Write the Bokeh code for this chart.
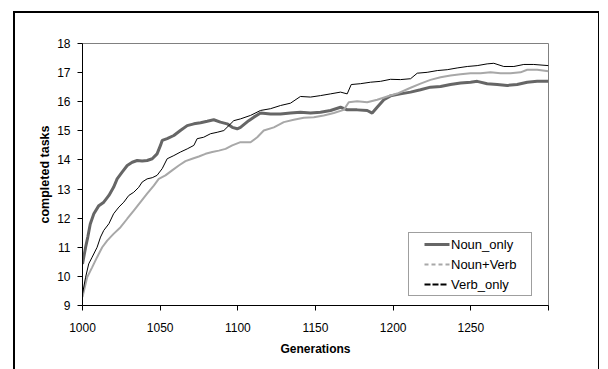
from bokeh.plotting import figure
from bokeh.layouts import column
from bokeh.models import Range1d, FixedTicker, Legend, LegendItem
from bokeh.embed import file_html
from bokeh.resources import INLINE

# ---- data ----
noun_only_gen = [1000, 1002, 1003.4, 1005, 1007.3, 1010.5, 1013.7, 1017, 1020, 1022.3,
                 1025.5, 1028.8, 1032, 1035.2, 1038.4, 1041.6, 1044.9, 1048, 1050.2, 1051.3,
                 1054.5, 1058.8, 1063, 1067.4, 1071.7, 1076, 1080.3, 1084.5, 1088.8, 1093.1,
                 1096.4, 1099.6, 1101.7, 1107, 1110.3, 1114.6, 1121, 1127.5, 1133.9, 1140.3,
                 1146.8, 1153.2, 1159.7, 1166.1, 1170.4, 1176.8, 1183.3, 1186.5, 1189.7, 1194,
                 1198.3, 1204.7, 1211.2, 1217.6, 1224, 1230.5, 1236.9, 1243.4, 1249.8, 1254.1,
                 1260.5, 1267, 1273.4, 1279.8, 1286.3, 1292.7, 1300]
noun_only = [10.43, 11.0, 11.35, 11.8, 12.15, 12.43, 12.55, 12.78, 13.06, 13.35,
             13.58, 13.81, 13.92, 13.98, 13.96, 13.98, 14.04, 14.21, 14.5, 14.67,
             14.73, 14.84, 15.01, 15.18, 15.24, 15.28, 15.33, 15.38, 15.3, 15.24,
             15.12, 15.07, 15.12, 15.35, 15.47, 15.61, 15.58, 15.58, 15.61, 15.64,
             15.61, 15.64, 15.7, 15.81, 15.72, 15.72, 15.7, 15.61, 15.81, 16.07,
             16.2, 16.27, 16.33, 16.41, 16.5, 16.52, 16.59, 16.64, 16.67, 16.7,
             16.62, 16.59, 16.56, 16.59, 16.67, 16.7, 16.7]

noun_verb_gen = [1000, 1003, 1006.2, 1009.4, 1012.7, 1015.9, 1020, 1024.5, 1028.8, 1033,
                 1037.3, 1041.6, 1045.9, 1049.1, 1053.4, 1057.7, 1062, 1066.3, 1070.6, 1074.9,
                 1079.2, 1083.5, 1087.8, 1092.1, 1096.4, 1101.7, 1108.2, 1112.5, 1116.7, 1123.2,
                 1129.6, 1136, 1142.5, 1148.9, 1155.3, 1161.8, 1168.2, 1171.4, 1176.8, 1183.3,
                 1189.7, 1196.2, 1202.6, 1211.2, 1217.6, 1224, 1230.5, 1236.9, 1243.4, 1249.8,
                 1256.2, 1262.7, 1269.1, 1275.5, 1282, 1286.3, 1292.7, 1300]
noun_verb = [9.29, 9.97, 10.31, 10.66, 11.0, 11.23, 11.46, 11.69, 11.98, 12.26,
             12.55, 12.84, 13.12, 13.35, 13.47, 13.64, 13.81, 13.96, 14.04, 14.12,
             14.21, 14.27, 14.32, 14.38, 14.5, 14.61, 14.61, 14.78, 15.01, 15.12,
             15.3, 15.38, 15.45, 15.47, 15.53, 15.61, 15.72, 15.98, 16.02, 15.98,
             16.07, 16.18, 16.28, 16.48, 16.62, 16.75, 16.84, 16.9, 16.94, 16.98,
             16.98, 17.01, 16.98, 16.98, 17.01, 17.1, 17.1, 17.05]

verb_only_gen = [1000, 1002, 1004, 1006.2, 1009.4, 1011.6, 1013.7, 1017, 1020, 1023.4,
                 1026.6, 1029.8, 1033, 1036.2, 1038.4, 1041.6, 1044.9, 1048, 1051.3, 1054.5,
                 1058.8, 1063, 1067.4, 1071.7, 1073.8, 1078, 1082.4, 1086.7, 1091, 1094.2,
                 1097.4, 1101.7, 1108.2, 1114.6, 1121, 1127.5, 1133.9, 1140.3, 1146.8, 1153.2,
                 1159.7, 1166.1, 1170.4, 1173, 1179, 1185.4, 1191.8, 1198.3, 1204.7, 1211.2,
                 1215.5, 1221.9, 1228.4, 1234.8, 1241.2, 1247.7, 1254.1, 1260.5, 1264.8, 1271.2,
                 1277.7, 1284.1, 1290.5, 1300]
verb_only = [9.4, 9.97, 10.43, 10.66, 11.0, 11.35, 11.58, 11.81, 12.15, 12.38,
             12.55, 12.78, 12.89, 13.06, 13.24, 13.35, 13.39, 13.47, 13.7, 14.04,
             14.15, 14.27, 14.38, 14.5, 14.73, 14.78, 14.9, 14.95, 15.01, 15.18,
             15.35, 15.41, 15.53, 15.7, 15.76, 15.87, 15.95, 16.18, 16.16, 16.21,
             16.27, 16.33, 16.27, 16.59, 16.62, 16.67, 16.7, 16.77, 16.76, 16.79,
             16.98, 17.01, 17.07, 17.1, 17.16, 17.21, 17.24, 17.3, 17.32, 17.21,
             17.21, 17.28, 17.28, 17.24]

x_ticks = [1000, 1050, 1100, 1150, 1200, 1250, 1300]
y_ticks = [9, 10, 11, 12, 13, 14, 15, 16, 17, 18]
series_labels = ["Noun_only", "Noun+Verb", "Verb_only"]

FONT = "Liberation Sans"

p = figure(width=583, height=356, output_backend="svg", toolbar_location=None,
           x_range=Range1d(1000, 1300), y_range=Range1d(9, 18),
           min_border_left=67, min_border_right=50, min_border_top=30, min_border_bottom=64)
p.background_fill_color = "white"
p.border_fill_color = "white"
p.outline_line_color = "#808080"
p.outline_line_width = 1
p.xgrid.visible = False
p.ygrid.visible = False

r1 = p.line(noun_only_gen, noun_only, line_color="#666666", line_width=3)
r2 = p.line(noun_verb_gen, noun_verb, line_color="#a8a8a8", line_width=2)
r3 = p.line(verb_only_gen, verb_only, line_color="black", line_width=1)

# legend sample glyphs (dashed as in the reference legend); their data lies outside the view.
# A leading zero-length dash + gap leaves the white space before each sample line.
off_x = [0, 1]
off_y = [0, 0]
l1 = p.line(off_x, off_y, line_color="#666666", line_width=3, line_dash="0 13 25 100")
l2 = p.line(off_x, off_y, line_color="#a8a8a8", line_width=2, line_dash="0 13 4 3 4 3 4 3 4 100")
l3 = p.line(off_x, off_y, line_color="black", line_width=2, line_dash="0 13 6 2 6 2 6 100")

legend = Legend(items=[LegendItem(label=series_labels[0], renderers=[l1]),
                       LegendItem(label=series_labels[1], renderers=[l2]),
                       LegendItem(label=series_labels[2], renderers=[l3])],
                location=(326, 9))
legend.label_text_font = FONT
legend.label_text_font_size = "13px"
legend.label_text_color = "black"
legend.glyph_width = 39
legend.glyph_height = 18
legend.label_height = 18
legend.label_standoff = 1
legend.spacing = 2
legend.padding = 2
legend.margin = 0
legend.label_width = 78
legend.border_line_color = "#404040"
legend.border_line_width = 1
legend.background_fill_alpha = 1
p.add_layout(legend)

xa = p.xaxis[0]
xa.ticker = FixedTicker(ticks=x_ticks)
xa.major_label_overrides = {1300: ""}
xa.minor_tick_line_color = None
xa.major_tick_in = 0
xa.major_tick_out = 5
xa.axis_line_color = "black"
xa.major_tick_line_color = "black"
xa.major_label_standoff = 12
xa.major_label_text_font = FONT
xa.major_label_text_font_size = "12px"
xa.major_label_text_color = "black"
xa.axis_label = "Generations"
xa.axis_label_text_font = FONT
xa.axis_label_text_font_style = "bold"
xa.axis_label_text_font_size = "12px"
xa.axis_label_text_color = "black"
xa.axis_label_standoff = 7

ya = p.yaxis[0]
ya.ticker = FixedTicker(ticks=y_ticks)
ya.minor_tick_line_color = None
ya.major_tick_in = 0
ya.major_tick_out = 5
ya.axis_line_color = "black"
ya.major_tick_line_color = "black"
ya.major_label_standoff = 7
ya.major_label_text_font = FONT
ya.major_label_text_font_size = "12px"
ya.major_label_text_color = "black"
ya.axis_label = "completed tasks"
ya.axis_label_text_font = FONT
ya.axis_label_text_font_style = "bold"
ya.axis_label_text_font_size = "12.5px"
ya.axis_label_text_color = "black"
ya.axis_label_standoff = 2

# outer chart-area frame (top, left and right edges, as in the reference crop)
lay = column(p, margin=(11, 0, 0, 13),
             styles={"border-top": "2px solid black",
                     "border-left": "2px solid black",
                     "border-right": "1px solid black"})

open("out.html", "w").write(file_html(lay, INLINE))
